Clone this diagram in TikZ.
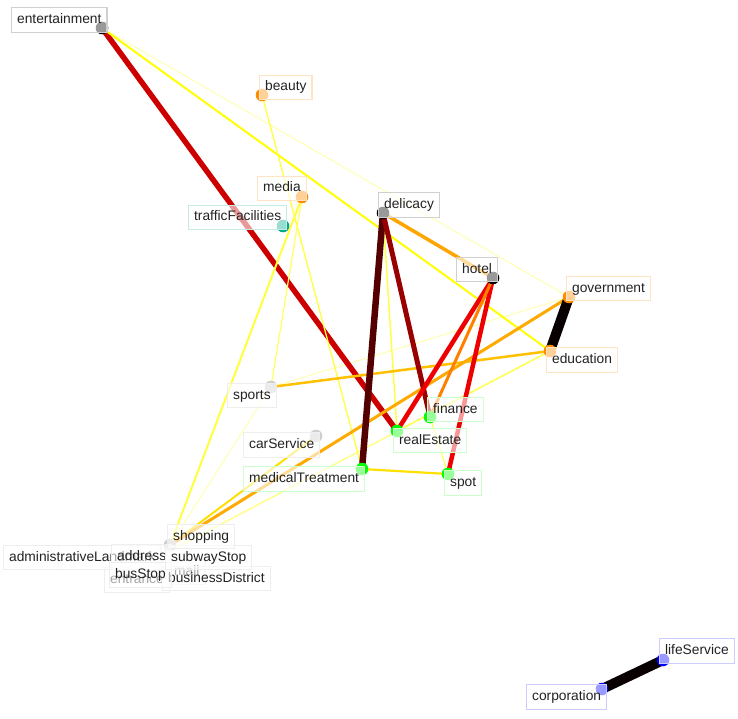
\documentclass[tikz,border=0pt]{standalone}
\usepackage{fontspec}
\setmainfont{Liberation Sans}
\definecolor{txt}{HTML}{222222}
\definecolor{cBlack}{HTML}{000000}
\definecolor{cOrange}{HTML}{FF8C00}
\definecolor{cTeal}{HTML}{00A88A}
\definecolor{cGreen}{HTML}{00FF00}
\definecolor{cLight}{HTML}{CFCFCF}
\definecolor{cBlue}{HTML}{0000FF}
\definecolor{bBlack}{HTML}{D0D0D0}
\definecolor{bOrange}{HTML}{FFE4C4}
\definecolor{bTeal}{HTML}{C4EBE4}
\definecolor{bGreen}{HTML}{CCFFCC}
\definecolor{bLight}{HTML}{EEEEEE}
\definecolor{bBlue}{HTML}{CCCCFF}
\definecolor{eRed}{HTML}{CC0000}
\definecolor{eYellow}{HTML}{FFFF00}
\definecolor{ePale}{HTML}{FFFFB0}
\definecolor{eYel2}{HTML}{FFFF40}
\definecolor{eYel3}{HTML}{FFFF60}
\definecolor{eMaroon}{HTML}{550000}
\definecolor{eDarkRed}{HTML}{990000}
\definecolor{eOrangeA}{HTML}{FFA500}
\definecolor{eBright}{HTML}{EE0000}
\definecolor{eOrangeB}{HTML}{FF8000}
\definecolor{eOrangeC}{HTML}{FFAA00}
\definecolor{eAmber}{HTML}{FFC000}
\definecolor{eGold}{HTML}{FFE000}
\definecolor{eBlk}{HTML}{080000}
\tikzset{
  dotnode/.style={circle, fill=#1, inner sep=0pt, minimum size=12.6pt},
  lab/.style={draw=#1, line width=1.2pt, fill=white, fill opacity=0.6, text opacity=1,
    anchor=west, inner xsep=5.5pt, inner ysep=0pt, minimum height=24.5pt,
    text height=9.9pt, text depth=2.9pt, font=\fontsize{13.8}{14}\selectfont, text=txt},
  faintbox/.style={draw=bLight, line width=1.2pt, fill=white, fill opacity=0.6,
    anchor=west, inner sep=0pt, minimum height=24.5pt, minimum width=100pt},
  link/.style={line width=#1}
}
\begin{document}
\begin{tikzpicture}[x=1pt,y=-1pt]
\useasboundingbox (0,0) rectangle (738,719);
\fill[white] (0,0) rectangle (738,719);
% dot coordinates
\coordinate (ent) at (102,28);
\coordinate (bea) at (262,95);
\coordinate (mda) at (302,197);
\coordinate (tra) at (283,226);
\coordinate (del) at (383,213);
\coordinate (hot) at (493,278);
\coordinate (gov) at (569,297);
\coordinate (edu) at (550,351);
\coordinate (spr) at (271,387);
\coordinate (car) at (316,436);
\coordinate (med) at (362,469);
\coordinate (fin) at (430,417);
\coordinate (rea) at (397,431);
\coordinate (spt) at (448,474);
\coordinate (sho) at (170,545);
\coordinate (adr) at (168,552);
\coordinate (cor) at (602,689);
\coordinate (lif) at (663,660);
% edges
\draw[link=1, ePale] (ent) -- (gov);
\draw[link=1, ePale] (gov) -- (spr);
\draw[link=1, ePale] (sho) -- (spr);
\draw[link=1.5, ePale!80!eYellow] (edu) -- (adr);
\draw[link=5.5, eRed] (ent) -- (rea);
\draw[link=2, eYellow] (ent) -- (edu);
\draw[link=1.3, eYel2] (bea) -- (med);
\draw[link=1.2, eYel3] (mda) -- (spr);
\draw[link=2, eYel2] (mda) -- (sho);
\draw[link=1.4, eYel2] (del) -- (rea);
\draw[link=1.5, eYel3] (edu) -- (rea);
\draw[link=1, eYel2] (fin) -- (spt);
\draw[link=2.2, eGold] (med) -- (spt);
\draw[link=2, eGold] (sho) -- (car);
\draw[link=2.5, eAmber] (edu) -- (spr);
\draw[link=3, eOrangeC] (gov) -- (sho);
\draw[link=3.5, eOrangeA] (del) -- (hot);
\draw[link=6.5, eMaroon] (del) -- (med);
\draw[link=5, eDarkRed] (del) -- (fin);
\draw[link=4.5, eBright] (hot) -- (rea);
\draw[link=4.5, eBright] (hot) -- (spt);
\draw[link=3, eOrangeB] (hot) -- (fin);
\draw[link=10, eBlk] (gov) -- (edu);
\draw[link=10, eBlk] (cor) -- (lif);
% nodes: dot then label
\node[dotnode=cBlack] (entDot) at (ent) {};
\node[lab=bBlack] (entLab) at (11,20) {entertainment};
\node[dotnode=cOrange] (beaDot) at (bea) {};
\node[lab=bOrange] (beaLab) at (259,87.5) {beauty};
\node[dotnode=cOrange] (mdaDot) at (mda) {};
\node[lab=bOrange] (mdaLab) at (257,188.5) {media};
\node[dotnode=cTeal] (traDot) at (tra) {};
\node[lab=bTeal] (traLab) at (188,217.5) {trafficFacilities};
\node[dotnode=cBlack] (delDot) at (del) {};
\node[lab=bBlack] (delLab) at (378,205) {delicacy};
\node[dotnode=cBlack] (hotDot) at (hot) {};
\node[lab=bBlack] (hotLab) at (456,269.5) {hotel};
\node[dotnode=cOrange] (govDot) at (gov) {};
\node[lab=bOrange] (govLab) at (566,288.5) {government};
\node[dotnode=cOrange] (eduDot) at (edu) {};
\node[lab=bOrange] (eduLab) at (546,360) {education};
\node[dotnode=cLight] (sprDot) at (spr) {};
\node[lab=bLight] (sprLab) at (227,395.5) {sports};
\node[dotnode=cLight] (carDot) at (car) {};
\node[lab=bLight] (carLab) at (243,445) {carService};
\node[dotnode=cGreen] (medDot) at (med) {};
\node[lab=bGreen] (medLab) at (243,479) {medicalTreatment};
\node[dotnode=cGreen] (finDot) at (fin) {};
\node[lab=bGreen] (finLab) at (427,409.5) {finance};
\node[dotnode=cGreen] (reaDot) at (rea) {};
\node[lab=bGreen] (reaLab) at (393,440.5) {realEstate};
\node[dotnode=cGreen] (sptDot) at (spt) {};
\node[lab=bGreen] (sptLab) at (444,483) {spot};
\node[dotnode=cLight] (shoDot) at (sho) {};
\node[faintbox] (hidBox) at (58,557.5) {};
\node[lab=bLight] (entrLab) at (104,580) {entrance};
\node[lab=bLight] (mallLab) at (168,572) {mall};
\node[lab=bLight] (admLab) at (3,557.5) {administrativeLandmark};
\node[lab=bLight] (adrLab) at (111,557) {address};
\node[lab=bLight] (bizLab) at (162,578.5) {businessDistrict};
\node[lab=bLight] (busLab) at (109,575) {busStop};
\node[lab=bLight] (subLab) at (165,557.5) {subwayStop};
\node[lab=bLight] (shoLab) at (167,536.5) {shopping};
\node[dotnode=cBlue] (corDot) at (cor) {};
\node[lab=bBlue] (corLab) at (526,697) {corporation};
\node[dotnode=cBlue] (lifDot) at (lif) {};
\node[lab=bBlue] (lifLab) at (659,651) {lifeService};
\end{tikzpicture}
\end{document}
